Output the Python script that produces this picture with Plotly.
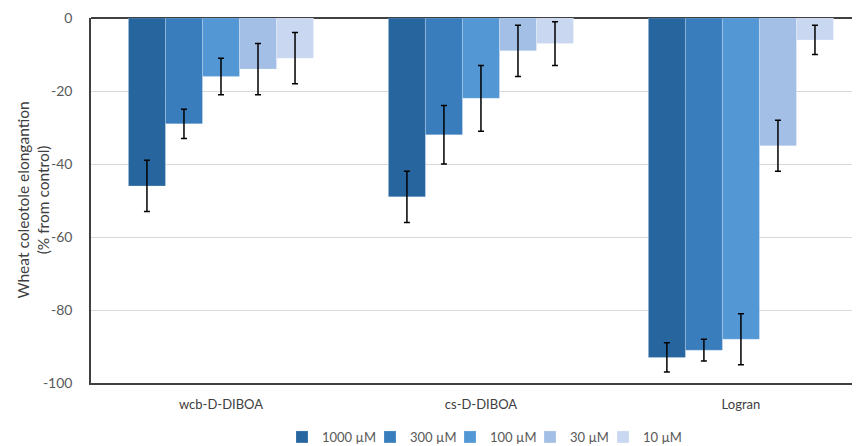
import plotly.graph_objects as go

categories = ["wcb-D-DIBOA", "cs-D-DIBOA", "Logran"]
series_names = ["1000 µM", "300 µM", "100 µM", "30 µM", "10 µM"]
values = {
    "1000 µM": [-46, -49, -93],
    "300 µM": [-29, -32, -91],
    "100 µM": [-16, -22, -88],
    "30 µM": [-14, -9, -35],
    "10 µM": [-11, -7, -6],
}
errors = {
    "1000 µM": [7, 7, 4],
    "300 µM": [4, 8, 3],
    "100 µM": [5, 9, 7],
    "30 µM": [7, 7, 7],
    "10 µM": [7, 6, 4],
}
colors = ["#26659E", "#3A7DBD", "#5497D5", "#A4BFE6", "#CAD7F0"]
y_ticks = [0, -20, -40, -60, -80, -100]
y_ticktext = ["0", "-20", "-40", "-60", "-80", "-100"]
y_title = "Wheat coleotole elongantion<br>(% from control)"

W, H = 860, 446
OFF = 8  # page body margin
# legend entry square centres (screen px)
legend_px = [300, 388, 468, 548, 621]

fig = go.Figure()
legend_names = ["legend", "legend2", "legend3", "legend4", "legend5"]
for name, col, lg in zip(series_names, colors, legend_names):
    fig.add_trace(go.Bar(
        x=categories, y=values[name], name=name, legend=lg,
        marker=dict(color=col, line=dict(color="rgba(255,255,255,0.35)", width=0.6)),
        error_y=dict(type="data", array=errors[name], visible=True,
                     color="#000000", thickness=1.5, width=3),
    ))

font_family = "Lato, 'Liberation Sans', sans-serif"
legend_layout = {}
for lg, px in zip(legend_names, legend_px):
    legend_layout[lg] = dict(
        orientation="h", xref="container", yref="container",
        x=(px - OFF - 18) / W, xanchor="left",
        y=1 - (437 - OFF) / H, yanchor="middle",
        font=dict(size=13, color="#595959"), itemwidth=30,
        bgcolor="rgba(0,0,0,0)",
    )

fig.update_layout(
    width=W, height=H,
    margin=dict(l=91 - OFF, r=OFF, t=18 - OFF, b=H - (383 - OFF), autoexpand=False),
    barmode="group", bargap=0.288, bargroupgap=0,
    plot_bgcolor="white", paper_bgcolor="white",
    font=dict(family=font_family, color="#595959", size=13),
    showlegend=True,
    **legend_layout,
)
fig.update_xaxes(
    range=[-0.5, 2.458], showline=True, linecolor="#404040", linewidth=1.5,
    showgrid=False, tickfont=dict(size=13, color="#404040"), automargin=False,
    ticklabelstandoff=9,
)
fig.update_yaxes(
    range=[-100, 0], tickvals=y_ticks, ticktext=y_ticktext,
    showline=True, linecolor="#404040", linewidth=1.5,
    showgrid=True, gridcolor="#D9D9D9", gridwidth=1,
    zeroline=True, zerolinecolor="#404040", zerolinewidth=1.5,
    tickfont=dict(size=14, color="#595959"), ticklabelstandoff=14, automargin=False,
)
fig.add_annotation(
    text=y_title, textangle=-90, showarrow=False,
    xref="paper", yref="paper",
    x=(32 - 91) / (860 - 91), y=0.5, xanchor="center", yanchor="middle",
    font=dict(size=15.5, color="#404040", family=font_family),
)
fig.write_html("out.html")
